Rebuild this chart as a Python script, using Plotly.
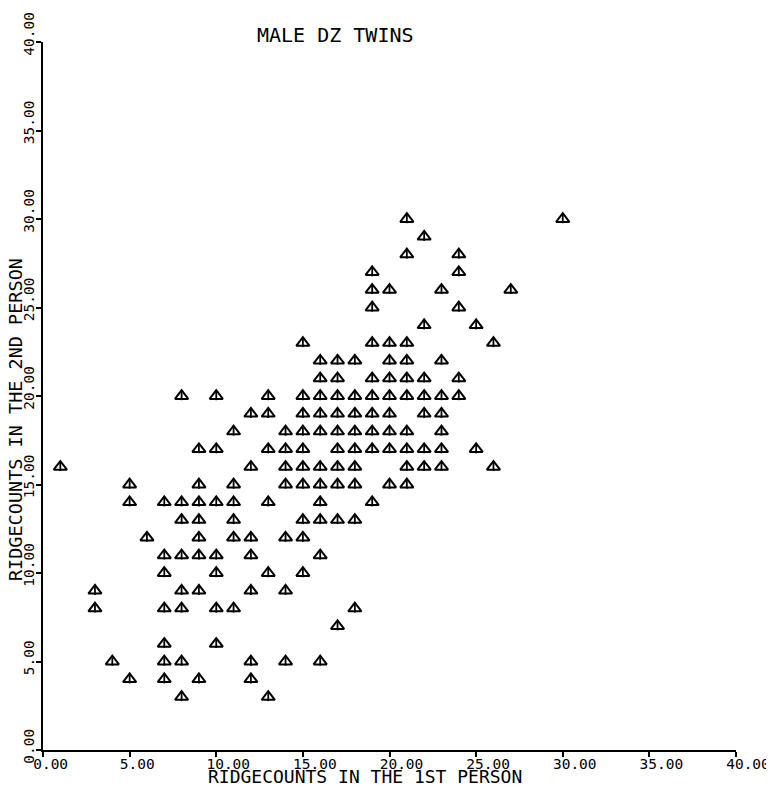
import plotly.graph_objects as go

# ---- data ----
row_y = [30, 29, 28, 27, 26, 25, 24, 23, 22, 21, 20, 19, 18, 17, 16, 15, 14, 13, 12, 11, 10, 9, 8, 7, 6, 5, 4, 3]
row_x = [
    [21, 30],
    [22],
    [21, 24],
    [19, 24],
    [19, 20, 23, 27],
    [19, 24],
    [22, 25],
    [15, 19, 20, 21, 26],
    [16, 17, 18, 20, 21, 23],
    [16, 17, 19, 20, 21, 22, 24],
    [8, 10, 13, 15, 16, 17, 18, 19, 20, 21, 22, 23, 24],
    [12, 13, 15, 16, 17, 18, 19, 20, 22, 23],
    [11, 14, 15, 16, 17, 18, 19, 20, 21, 23],
    [9, 10, 13, 14, 15, 17, 18, 19, 20, 21, 22, 23, 25],
    [1, 12, 14, 15, 16, 17, 18, 21, 22, 23, 26],
    [5, 9, 11, 14, 15, 16, 17, 18, 20, 21],
    [5, 7, 8, 9, 10, 11, 13, 16, 19],
    [8, 9, 11, 15, 16, 17, 18],
    [6, 9, 11, 12, 14, 15],
    [7, 8, 9, 10, 12, 16],
    [7, 10, 13, 15],
    [3, 8, 9, 12, 14],
    [3, 7, 8, 10, 11, 18],
    [17],
    [7, 10],
    [4, 7, 8, 12, 14, 16],
    [5, 7, 9, 12],
    [8, 13],
]

tick_vals = [0, 5, 10, 15, 20, 25, 30, 35, 40]
tick_text = ["0.00", "5.00", "10.00", "15.00", "20.00", "25.00", "30.00", "35.00", "40.00"]

title_text = "MALE DZ TWINS"
x_title = "RIDGECOUNTS IN THE 1ST PERSON"
y_title = "RIDGECOUNTS IN THE 2ND PERSON"

# flatten
xs, ys = [], []
for yv, xl in zip(row_y, row_x):
    for xv in xl:
        xs.append(xv)
        ys.append(yv)

FONT = "DejaVu Sans Mono"
pad_text = [t + "\u00a0" * (5 - len(t)) for t in tick_text]

fig = go.Figure()
fig.add_trace(go.Scatter(
    x=xs, y=ys, mode="markers", hoverinfo="skip",
    marker=dict(symbol="triangle-up-open", size=11.5, color="black",
                line=dict(color="black", width=2)),
))
fig.add_trace(go.Scatter(
    x=xs, y=ys, mode="markers", hoverinfo="skip",
    marker=dict(symbol="line-ns-open", size=6, color="black",
                line=dict(color="black", width=1.8)),
))

axis_common = dict(
    range=[0, 40], tickmode="array", tickvals=tick_vals, ticktext=pad_text,
    showgrid=False, zeroline=False, showline=True, linecolor="black", linewidth=1.5,
    ticks="outside", ticklen=5, tickwidth=1.5, tickcolor="black",
    tickfont=dict(family=FONT, size=14.5, color="black"),
    automargin=False, ticklabeloverflow="allow",
)

fig.update_layout(
    template="none",
    width=766, height=782,
    margin=dict(l=35, r=38, t=34, b=40, pad=0),
    paper_bgcolor="white", plot_bgcolor="white",
    showlegend=False,
    xaxis=dict(**axis_common, ticklabelshift=12, ticklabelstandoff=-5),
    yaxis=dict(**axis_common, tickangle=-90, ticklabelshift=-6, ticklabelstandoff=-4),
    annotations=[
        dict(text=title_text, xref="paper", yref="paper", x=0.422, y=1.0099,
             xanchor="center", yanchor="middle", showarrow=False,
             font=dict(family=FONT, size=20, color="black")),
        dict(text=x_title, xref="paper", yref="paper", x=0.464, y=-0.038,
             xanchor="center", yanchor="middle", showarrow=False,
             font=dict(family=FONT, size=18, color="black")),
        dict(text=y_title, xref="paper", yref="paper", x=-0.0404, y=0.466,
             xanchor="center", yanchor="middle", showarrow=False, textangle=-90,
             font=dict(family=FONT, size=18.5, color="black")),
    ],
)

fig.write_html("out.html")
